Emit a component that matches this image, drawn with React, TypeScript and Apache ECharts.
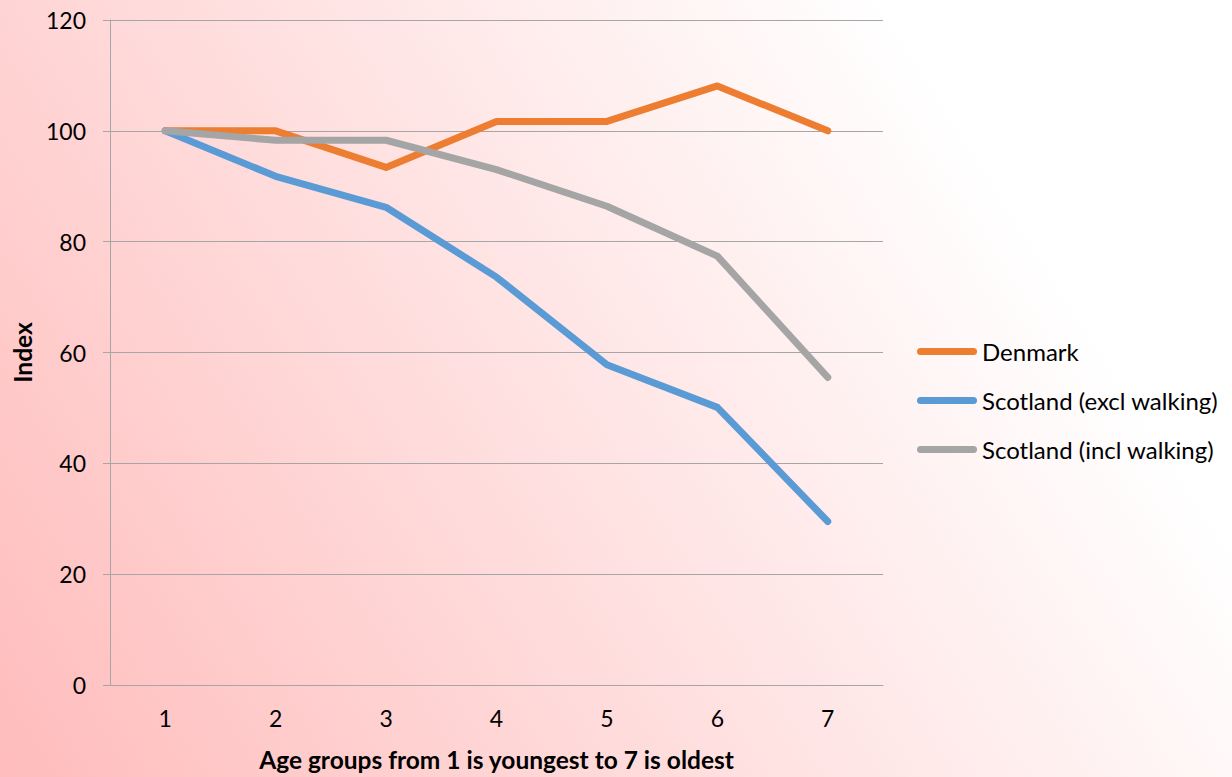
import React, { useEffect, useRef } from "react";
import * as echarts from "echarts";

const categories = ["1", "2", "3", "4", "5", "6", "7"];
const denmark = [100, 100, 93.4, 101.7, 101.7, 108.1, 100];
const scotlandExcl = [100, 91.8, 86.2, 73.6, 57.8, 50.1, 29.5];
const scotlandIncl = [100, 98.3, 98.3, 93.0, 86.4, 77.4, 55.5];
const seriesNames = ["Denmark", "Scotland (excl walking)", "Scotland (incl walking)"];
const seriesColors = ["#ED7D31", "#5B9BD5", "#A5A5A5"];
const yTicks = { min: 0, max: 120, interval: 20 };

const FONT = "Lato, 'Open Sans', sans-serif";

export default function App() {
  const ref = useRef<HTMLDivElement>(null);
  useEffect(() => {
    if (!ref.current) return;
    const chart = echarts.init(ref.current, null, { renderer: "svg" });
    const data = [denmark, scotlandExcl, scotlandIncl];
    chart.setOption({
      animation: false,
      backgroundColor: new echarts.graphic.LinearGradient(
        0, 777, 980, 150,
        [
          { offset: 0, color: "#ffbcbc" },
          { offset: 1, color: "#ffffff" },
        ],
        true
      ),
      textStyle: { fontFamily: FONT, color: "#000" },
      grid: { left: 110, right: 349, top: 20, bottom: 89, containLabel: false },
      legend: {
        orient: "vertical",
        left: 917,
        top: 337,
        padding: 0,
        itemWidth: 60,
        itemHeight: 7,
        itemGap: 20,
        icon: "path://M3.5,0 H56.5 A3.5,3.5 0 0 1 56.5,7 H3.5 A3.5,3.5 0 0 1 3.5,0 Z",
        textStyle: { fontFamily: FONT, fontSize: 24, lineHeight: 29, color: "#000" },
        data: seriesNames,
      },
      xAxis: {
        type: "category",
        data: categories,
        boundaryGap: true,
        name: "Age groups from 1 is youngest to 7 is oldest",
        nameLocation: "middle",
        nameGap: 62,
        nameTextStyle: { fontFamily: FONT, fontSize: 24.5, fontWeight: "bold", color: "#000" },
        axisLine: { show: true, lineStyle: { color: "#a6a6a6", width: 1 } },
        axisTick: { show: false },
        axisLabel: { fontFamily: FONT, fontSize: 23, color: "#000", margin: 21 },
        splitLine: { show: false },
      },
      yAxis: {
        type: "value",
        min: yTicks.min,
        max: yTicks.max,
        interval: yTicks.interval,
        name: "Index",
        nameLocation: "middle",
        nameRotate: 90,
        nameGap: 73,
        nameTextStyle: { fontFamily: FONT, fontSize: 24.5, fontWeight: "bold", color: "#000" },
        axisLine: { show: true, lineStyle: { color: "#a6a6a6", width: 1 } },
        axisTick: { show: true, length: 7, lineStyle: { color: "#a6a6a6" } },
        axisLabel: { fontFamily: FONT, fontSize: 23, color: "#000", margin: 24 },
        splitLine: { show: true, lineStyle: { color: "#a6a6a6", width: 1 } },
      },
      series: seriesNames.map((name, i) => ({
        name,
        type: "line",
        data: data[i],
        symbol: "none",
        color: seriesColors[i],
        lineStyle: { color: seriesColors[i], width: 7, cap: "round", join: "round" },
        z: 3 + i,
      })),
    });
    return () => chart.dispose();
  }, []);
  return (
    <div
      ref={ref}
      style={{ position: "absolute", left: 0, top: 0, width: 1232, height: 777 }}
    />
  );
}
